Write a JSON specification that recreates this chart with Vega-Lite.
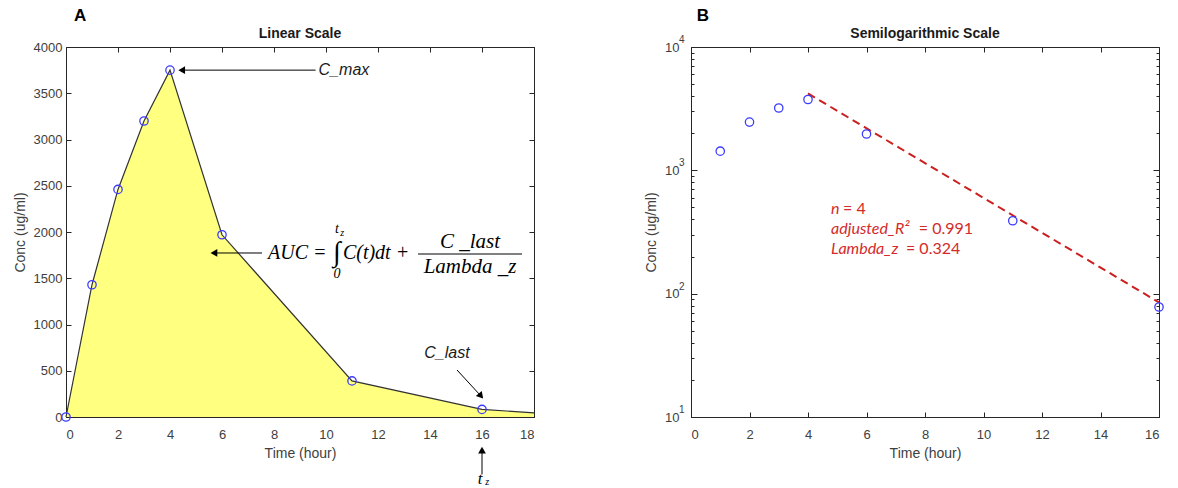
{
  "$schema": "https://vega.github.io/schema/vega-lite/v6.json",
  "background": "white",
  "padding": {"left": 12, "top": 6, "right": 5, "bottom": 0},
  "spacing": 106,
  "datasets": {
    "curveA": [
      {"t": 0, "c": 0}, {"t": 1, "c": 1430}, {"t": 2, "c": 2460}, {"t": 3, "c": 3200},
      {"t": 4, "c": 3750}, {"t": 6, "c": 1970}, {"t": 11, "c": 390}, {"t": 16, "c": 82}, {"t": 18, "c": 45}
    ],
    "obsA": [
      {"t": 0, "c": 0}, {"t": 1, "c": 1430}, {"t": 2, "c": 2460}, {"t": 3, "c": 3200},
      {"t": 4, "c": 3750}, {"t": 6, "c": 1970}, {"t": 11, "c": 390}, {"t": 16, "c": 82}
    ],
    "obsB": [
      {"t": 1, "c": 1430}, {"t": 2, "c": 2460}, {"t": 3, "c": 3200},
      {"t": 4, "c": 3750}, {"t": 6, "c": 1970}, {"t": 11, "c": 390}, {"t": 16, "c": 78}
    ],
    "fitB": [{"t": 4, "c": 4200}, {"t": 16, "c": 85}],
    "rulesA": [
      {"x1": 9.6, "y1": 3750, "x2": 4.45, "y2": 3750},
      {"x1": 7.54, "y1": 1773, "x2": 5.69, "y2": 1773},
      {"x1": 15.04, "y1": 508, "x2": 15.96, "y2": 227},
      {"x1": 16, "y1": -620, "x2": 16, "y2": -357},
      {"x1": 13.54, "y1": 1762, "x2": 17.54, "y2": 1762}
    ],
    "headLeft": [{"x": 4.45, "y": 3750}, {"x": 5.69, "y": 1773}],
    "headDiag": [{"x": 15.96, "y": 227}],
    "headUp": [{"x": 16, "y": -357}],
    "letterA": [{"x": 0.54, "y": 4335, "label": "A"}],
    "titleA": [{"x": 9, "y": 4141, "label": "Linear Scale"}],
    "sansA": [{"x": 10.69, "y": 3750, "label": "C_max"}, {"x": 14.65, "y": 692, "label": "C_last"}],
    "serifLeft": [{"x": 7.77, "y": 1773, "label": "AUC ="}, {"x": 10.65, "y": 1773, "label": "C(t)dt +"}],
    "serifCenter": [{"x": 15.54, "y": 1892, "label": "C _last"}, {"x": 15.54, "y": 1622, "label": "Lambda _z"}],
    "tBottom": [{"x": 15.93, "y": -665, "label": "t"}],
    "integral": [{"x": 10.42, "y": 1773, "label": "∫"}],
    "limits": [{"x": 10.42, "y": 2032, "label": "t"}, {"x": 10.42, "y": 1546, "label": "0"}],
    "subs": [{"x": 10.62, "y": 1985, "label": "z"}, {"x": 16.2, "y": -700, "label": "z"}],
    "letterB": [{"x": 0.41, "y": 17800, "label": "B"}],
    "titleB": [{"x": 8, "y": 12740, "label": "Semilogarithmic Scale"}],
    "expB": [{"x": -0.41, "y": 10, "label": "1"}, {"x": -0.41, "y": 100, "label": "2"}, {"x": -0.41, "y": 1000, "label": "3"}, {"x": -0.41, "y": 10000, "label": "4"}],
    "italB": [{"x": 4.79, "y": 486, "label": "n"}, {"x": 4.79, "y": 334, "label": "adjusted_R²"}, {"x": 4.79, "y": 230, "label": "Lambda_z"}],
    "normB": [{"x": 5.2, "y": 486, "label": "= 4"}, {"x": 7.79, "y": 334, "label": "= 0.991"}, {"x": 7.35, "y": 230, "label": "= 0.324"}]
  },
  "hconcat": [
    {
      "width": 468,
      "height": 370,
      "resolve": {"axis": {"x": "independent", "y": "independent"}},
      "layer": [
        {
          "data": {"name": "curveA"},
          "mark": {"type": "area", "color": "#ffff80", "opacity": 1, "line": {"color": "#333333", "strokeWidth": 1.2}},
          "encoding": {
            "x": {"field": "t", "type": "quantitative", "scale": {"domain": [0, 18], "nice": false},
                  "axis": {"orient": "bottom", "values": [0, 2, 4, 6, 8, 10, 12, 14, 16, 18], "title": "Time (hour)", "labelPadding": 16}},
            "y": {"field": "c", "type": "quantitative", "scale": {"domain": [0, 4000], "nice": false},
                  "axis": {"orient": "left", "values": [0, 500, 1000, 1500, 2000, 2500, 3000, 3500, 4000], "format": "d", "title": "Conc (ug/ml)", "labelPadding": 9, "titlePadding": 6}}
          }
        },
        {
          "data": {"name": "curveA"},
          "mark": {"type": "point", "opacity": 0},
          "encoding": {
            "x": {"field": "t", "type": "quantitative", "axis": {"orient": "top", "values": [0, 2, 4, 6, 8, 10, 12, 14, 16, 18], "labels": false, "domain": false, "title": null}},
            "y": {"field": "c", "type": "quantitative", "axis": {"orient": "right", "values": [0, 500, 1000, 1500, 2000, 2500, 3000, 3500, 4000], "labels": false, "domain": false, "title": null}}
          }
        },
        {
          "data": {"name": "obsA"},
          "mark": {"type": "point", "shape": "circle", "filled": false, "color": "#3c3cff", "size": 70, "strokeWidth": 1.3, "opacity": 1},
          "encoding": {
            "x": {"field": "t", "type": "quantitative", "axis": null},
            "y": {"field": "c", "type": "quantitative", "axis": null}
          }
        },
        {
          "data": {"name": "rulesA"},
          "mark": {"type": "rule", "color": "#000000", "strokeWidth": 1},
          "encoding": {
            "x": {"field": "x1", "type": "quantitative", "axis": null},
            "y": {"field": "y1", "type": "quantitative", "axis": null},
            "x2": {"field": "x2"},
            "y2": {"field": "y2"}
          }
        },
        {
          "data": {"name": "headLeft"},
          "mark": {"type": "point", "shape": "triangle-left", "filled": true, "color": "#000000", "size": 60, "opacity": 1},
          "encoding": {
            "x": {"field": "x", "type": "quantitative", "axis": null},
            "y": {"field": "y", "type": "quantitative", "axis": null}
          }
        },
        {
          "data": {"name": "headDiag"},
          "mark": {"type": "point", "shape": "triangle-down", "angle": -40, "filled": true, "color": "#000000", "size": 60, "opacity": 1},
          "encoding": {
            "x": {"field": "x", "type": "quantitative", "axis": null},
            "y": {"field": "y", "type": "quantitative", "axis": null}
          }
        },
        {
          "data": {"name": "headUp"},
          "mark": {"type": "point", "shape": "triangle-up", "filled": true, "color": "#000000", "size": 60, "opacity": 1},
          "encoding": {
            "x": {"field": "x", "type": "quantitative", "axis": null},
            "y": {"field": "y", "type": "quantitative", "axis": null}
          }
        },
        {
          "data": {"name": "letterA"},
          "mark": {"type": "text", "font": "Liberation Sans", "fontWeight": "bold", "fontSize": 17, "color": "#000000", "align": "center", "baseline": "middle"},
          "encoding": {
            "x": {"field": "x", "type": "quantitative", "axis": null},
            "y": {"field": "y", "type": "quantitative", "axis": null},
            "text": {"field": "label"}
          }
        },
        {
          "data": {"name": "titleA"},
          "mark": {"type": "text", "font": "Liberation Sans", "fontWeight": "bold", "fontSize": 14, "color": "#1a1a1a", "align": "center", "baseline": "middle"},
          "encoding": {
            "x": {"field": "x", "type": "quantitative", "axis": null},
            "y": {"field": "y", "type": "quantitative", "axis": null},
            "text": {"field": "label"}
          }
        },
        {
          "data": {"name": "sansA"},
          "mark": {"type": "text", "font": "Liberation Sans", "fontStyle": "italic", "fontSize": 16, "color": "#1a1a1a", "align": "center", "baseline": "middle"},
          "encoding": {
            "x": {"field": "x", "type": "quantitative", "axis": null},
            "y": {"field": "y", "type": "quantitative", "axis": null},
            "text": {"field": "label"}
          }
        },
        {
          "data": {"name": "serifLeft"},
          "mark": {"type": "text", "font": "Liberation Serif", "fontStyle": "italic", "fontSize": 20, "color": "#000000", "align": "left", "baseline": "middle"},
          "encoding": {
            "x": {"field": "x", "type": "quantitative", "axis": null},
            "y": {"field": "y", "type": "quantitative", "axis": null},
            "text": {"field": "label"}
          }
        },
        {
          "data": {"name": "serifCenter"},
          "mark": {"type": "text", "font": "Liberation Serif", "fontStyle": "italic", "fontSize": 21, "color": "#000000", "align": "center", "baseline": "middle"},
          "encoding": {
            "x": {"field": "x", "type": "quantitative", "axis": null},
            "y": {"field": "y", "type": "quantitative", "axis": null},
            "text": {"field": "label"}
          }
        },
        {
          "data": {"name": "tBottom"},
          "mark": {"type": "text", "font": "Liberation Serif", "fontStyle": "italic", "fontSize": 17, "color": "#000000", "align": "center", "baseline": "middle"},
          "encoding": {
            "x": {"field": "x", "type": "quantitative", "axis": null},
            "y": {"field": "y", "type": "quantitative", "axis": null},
            "text": {"field": "label"}
          }
        },
        {
          "data": {"name": "integral"},
          "mark": {"type": "text", "font": "Liberation Serif", "fontSize": 28, "color": "#000000", "align": "center", "baseline": "middle"},
          "encoding": {
            "x": {"field": "x", "type": "quantitative", "axis": null},
            "y": {"field": "y", "type": "quantitative", "axis": null},
            "text": {"field": "label"}
          }
        },
        {
          "data": {"name": "limits"},
          "mark": {"type": "text", "font": "Liberation Serif", "fontStyle": "italic", "fontSize": 14, "color": "#000000", "align": "center", "baseline": "middle"},
          "encoding": {
            "x": {"field": "x", "type": "quantitative", "axis": null},
            "y": {"field": "y", "type": "quantitative", "axis": null},
            "text": {"field": "label"}
          }
        },
        {
          "data": {"name": "subs"},
          "mark": {"type": "text", "font": "Liberation Serif", "fontStyle": "italic", "fontSize": 10, "color": "#000000", "align": "center", "baseline": "middle"},
          "encoding": {
            "x": {"field": "x", "type": "quantitative", "axis": null},
            "y": {"field": "y", "type": "quantitative", "axis": null},
            "text": {"field": "label"}
          }
        }
      ]
    },
    {
      "width": 468,
      "height": 370,
      "resolve": {"axis": {"x": "independent", "y": "independent"}},
      "layer": [
        {
          "data": {"name": "fitB"},
          "mark": {"type": "line", "color": "#cc1f1f", "strokeDash": [8, 5], "strokeWidth": 2},
          "encoding": {
            "x": {"field": "t", "type": "quantitative", "scale": {"domain": [0, 16], "nice": false},
                  "axis": {"orient": "bottom", "values": [0, 2, 4, 6, 8, 10, 12, 14, 16], "title": "Time (hour)", "labelPadding": 16}},
            "y": {"field": "c", "type": "quantitative", "scale": {"type": "log", "domain": [10, 10000], "nice": false},
                  "axis": {"orient": "left", "title": "Conc (ug/ml)", "labelPadding": 18, "titlePadding": 6,
                           "values": [10, 20, 30, 40, 50, 60, 70, 80, 90, 100, 200, 300, 400, 500, 600, 700, 800, 900, 1000, 2000, 3000, 4000, 5000, 6000, 7000, 8000, 9000, 10000],
                           "labelExpr": "indexof([10,100,1000,10000], datum.value) >= 0 ? '10' : ''",
                           "tickSize": {"condition": {"test": "indexof([10,100,1000,10000], datum.value) >= 0", "value": -6}, "value": -3}}}
          }
        },
        {
          "data": {"name": "obsB"},
          "mark": {"type": "point", "opacity": 0},
          "encoding": {
            "x": {"field": "t", "type": "quantitative", "axis": {"orient": "top", "values": [0, 2, 4, 6, 8, 10, 12, 14, 16], "labels": false, "domain": false, "title": null}},
            "y": {"field": "c", "type": "quantitative", "axis": {"orient": "right", "labels": false, "domain": false, "title": null,
                  "values": [10, 20, 30, 40, 50, 60, 70, 80, 90, 100, 200, 300, 400, 500, 600, 700, 800, 900, 1000, 2000, 3000, 4000, 5000, 6000, 7000, 8000, 9000, 10000],
                  "tickSize": {"condition": {"test": "indexof([10,100,1000,10000], datum.value) >= 0", "value": -6}, "value": -3}}}
          }
        },
        {
          "data": {"name": "obsB"},
          "mark": {"type": "point", "shape": "circle", "filled": false, "color": "#3c3cff", "size": 70, "strokeWidth": 1.3, "opacity": 1},
          "encoding": {
            "x": {"field": "t", "type": "quantitative", "axis": null},
            "y": {"field": "c", "type": "quantitative", "axis": null}
          }
        },
        {
          "data": {"name": "expB"},
          "mark": {"type": "text", "font": "Liberation Sans", "fontSize": 10, "color": "#404040", "align": "left", "baseline": "middle", "dy": -7},
          "encoding": {
            "x": {"field": "x", "type": "quantitative", "axis": null},
            "y": {"field": "y", "type": "quantitative", "axis": null},
            "text": {"field": "label"}
          }
        },
        {
          "data": {"name": "letterB"},
          "mark": {"type": "text", "font": "Liberation Sans", "fontWeight": "bold", "fontSize": 17, "color": "#000000", "align": "center", "baseline": "middle"},
          "encoding": {
            "x": {"field": "x", "type": "quantitative", "axis": null},
            "y": {"field": "y", "type": "quantitative", "axis": null},
            "text": {"field": "label"}
          }
        },
        {
          "data": {"name": "titleB"},
          "mark": {"type": "text", "font": "Liberation Sans", "fontWeight": "bold", "fontSize": 14, "color": "#1a1a1a", "align": "center", "baseline": "middle"},
          "encoding": {
            "x": {"field": "x", "type": "quantitative", "axis": null},
            "y": {"field": "y", "type": "quantitative", "axis": null},
            "text": {"field": "label"}
          }
        },
        {
          "data": {"name": "italB"},
          "mark": {"type": "text", "font": "Lato", "fontStyle": "italic", "fontSize": 16, "color": "#d42a2a", "align": "left", "baseline": "middle"},
          "encoding": {
            "x": {"field": "x", "type": "quantitative", "axis": null},
            "y": {"field": "y", "type": "quantitative", "axis": null},
            "text": {"field": "label"}
          }
        },
        {
          "data": {"name": "normB"},
          "mark": {"type": "text", "font": "Lato", "fontSize": 16, "color": "#d42a2a", "align": "left", "baseline": "middle"},
          "encoding": {
            "x": {"field": "x", "type": "quantitative", "axis": null},
            "y": {"field": "y", "type": "quantitative", "axis": null},
            "text": {"field": "label"}
          }
        }
      ]
    }
  ],
  "config": {
    "font": "Liberation Sans",
    "view": {"stroke": "#262626", "strokeWidth": 1},
    "axis": {
      "grid": false,
      "domainColor": "#262626",
      "tickColor": "#262626",
      "tickSize": -5,
      "labelColor": "#404040",
      "labelFont": "Liberation Sans",
      "labelFontSize": 13,
      "titleFont": "Liberation Sans",
      "titleFontSize": 14,
      "titleFontWeight": "normal",
      "titleColor": "#404040",
      "titlePadding": 5
    }
  }
}
